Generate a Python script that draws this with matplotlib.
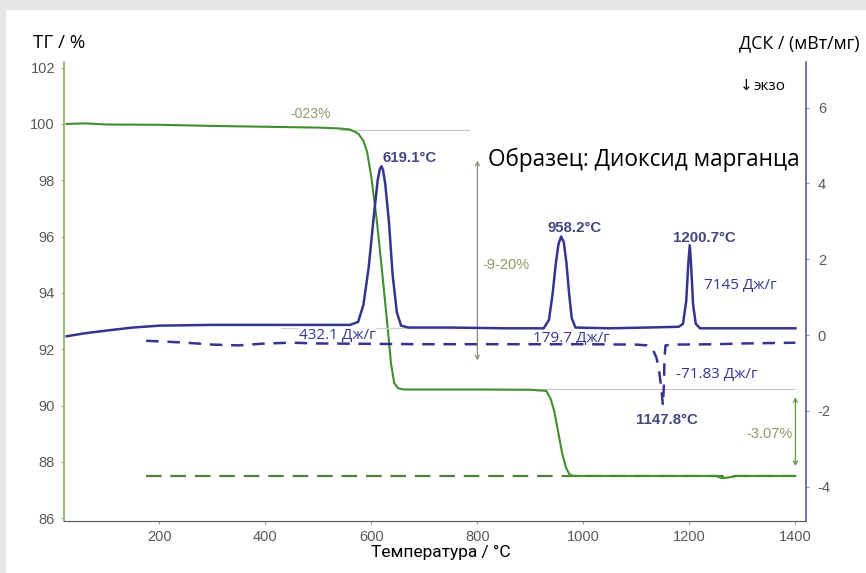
import matplotlib
matplotlib.use("Agg")
import matplotlib.pyplot as plt
from matplotlib.patches import Rectangle

plt.rcParams["axes.unicode_minus"] = False

# ---------------- data ----------------
tg_temp = [25, 60, 100, 200, 300, 400, 500, 540, 560, 575, 585, 592, 600, 610, 620,
           630, 637, 643, 650, 660, 700, 800, 900, 930, 938, 945, 952, 960, 967,
           974, 980, 1000, 1100, 1200, 1250, 1262, 1275, 1290, 1400]
tg_mass = [100.0, 100.02, 99.98, 99.97, 99.93, 99.9, 99.87, 99.84, 99.8, 99.66, 99.4,
           99.0, 98.1, 96.6, 94.8, 92.9, 91.5, 90.8, 90.62, 90.57, 90.57, 90.57, 90.56,
           90.52, 90.25, 89.8, 89.1, 88.3, 87.8, 87.55, 87.5, 87.5, 87.5, 87.5, 87.5,
           87.42, 87.45, 87.5, 87.5]

dsc_temp = [25, 60, 100, 150, 200, 300, 400, 500, 560, 575, 585, 595, 605, 612, 616,
            619, 622, 626, 633, 640, 648, 656, 670, 750, 850, 925, 935, 942, 948, 953,
            958, 963, 968, 973, 978, 985, 1050, 1120, 1180, 1188, 1194, 1198, 1200.7,
            1203, 1207, 1212, 1220, 1300, 1400]
dsc_heat = [-0.03, 0.05, 0.12, 0.2, 0.25, 0.27, 0.27, 0.27, 0.27, 0.35, 0.8, 1.8,
            3.2, 4.1, 4.38, 4.45, 4.35, 4.0, 3.0, 1.6, 0.6, 0.25, 0.2, 0.2, 0.18, 0.18,
            0.4, 1.1, 1.9, 2.4, 2.6, 2.45, 1.9, 1.1, 0.45, 0.2, 0.18, 0.2, 0.22, 0.3,
            0.9, 1.9, 2.37, 1.9, 0.8, 0.3, 0.18, 0.18, 0.18]

dsc2_temp = [175, 210, 250, 300, 350, 400, 450, 500, 600, 700, 800, 900, 1000, 1100,
             1120, 1130, 1138, 1143, 1147, 1150, 1152, 1153, 1155, 1170, 1250, 1300,
             1400]
dsc2_heat = [-0.15, -0.17, -0.2, -0.25, -0.27, -0.22, -0.2, -0.22, -0.23, -0.24,
             -0.24, -0.24, -0.24, -0.25, -0.27, -0.35, -0.6, -0.95, -1.4, -1.85,
             -1.3, -0.6, -0.27, -0.25, -0.24, -0.22, -0.2]

tg_ref_temp = [175, 1400]
tg_ref_mass = [87.5, 87.5]

x_ticks = [200, 400, 600, 800, 1000, 1200, 1400]
tg_ticks = [86, 88, 90, 92, 94, 96, 98, 100, 102]
dsc_ticks = [-4, -2, 0, 2, 4, 6]

tg_steps = ["-023%", "-9-20%", "-3.07%"]
peak_labels = ["619.1°C", "958.2°C", "1200.7°C", "1147.8°C"]
enthalpy_labels = ["432.1 Дж/г", "179.7 Дж/г", "7145 Дж/г", "-71.83 Дж/г"]

# ---------------- style ----------------
GREEN = "#3f8f2f"
NAVY = "#35358f"
OLIVE = "#8a9a62"
TICKC = "#595959"
SANS = ["Open Sans", "DejaVu Sans"]
TICKF = ["Liberation Sans", "DejaVu Sans"]

fig = plt.figure(figsize=(8.66, 5.73), dpi=100)
fig.patch.set_facecolor("#e6e6e6")
fig.add_artist(Rectangle((6 / 866, 0), 1, 1 - 10 / 573, transform=fig.transFigure,
                         facecolor="white", edgecolor="none", zorder=-10))

ax = fig.add_axes([64 / 866, 1 - 521 / 573, (806 - 64) / 866, (521 - 62) / 573])
ax2 = ax.twinx()

ax.set_xlim(20, 1420)
ax.set_ylim(85.9, 102.2)
ax2.set_ylim(-4.9, 7.2)

# TG curves
ax.plot(tg_temp, tg_mass, color=GREEN, lw=1.5, zorder=3)
ax.plot(tg_ref_temp, tg_ref_mass, color="#4f7f3a", lw=1.6, ls=(0, (7, 4)), zorder=2)

# reference gray lines
ax.plot([540, 785], [99.77, 99.77], color="#c8c8c8", lw=0.8, zorder=1)
ax.plot([800, 1400], [90.57, 90.57], color="#c8c8c8", lw=0.8, zorder=1)
ax2.plot([430, 800], [0.2, 0.2], color="#d0d0d0", lw=0.8, zorder=1)

# DSC curves
ax2.plot(dsc_temp, dsc_heat, color=NAVY, lw=1.8, zorder=4)
ax2.plot(dsc2_temp, dsc2_heat, color=NAVY, lw=1.8, ls=(0, (5, 3.5)), zorder=4)

# arrows
ax.annotate("", xy=(800, 91.5), xytext=(800, 98.8),
            arrowprops=dict(arrowstyle="<->", color="#8c8c80", lw=0.9, mutation_scale=7))
ax.annotate("", xy=(1400, 87.75), xytext=(1400, 90.4),
            arrowprops=dict(arrowstyle="<->", color="#5f9a45", lw=0.9, mutation_scale=7))

# axes styling
for a in (ax, ax2):
    a.spines["top"].set_visible(False)
ax.spines["left"].set_color("#7ab562")
ax.spines["bottom"].set_color("#555555")
ax.spines["right"].set_visible(False)
ax2.spines["left"].set_visible(False)
ax2.spines["bottom"].set_visible(False)
ax2.spines["right"].set_color("#5a5ab0")
ax2.spines["right"].set_linewidth(1.2)
ax.spines["left"].set_linewidth(1.2)

ax.set_xticks(x_ticks)
ax.set_yticks(tg_ticks)
ax2.set_yticks(dsc_ticks)
ax.tick_params(axis="both", length=2.5, width=0.8, colors="#999999", labelcolor=TICKC,
               labelsize=10.5, pad=4)
ax2.tick_params(axis="y", length=2.5, width=0.8, colors="#999999", labelcolor=TICKC,
                labelsize=10.5, pad=6)
for lab in ax.get_xticklabels() + ax.get_yticklabels() + ax2.get_yticklabels():
    lab.set_family(TICKF)

# axis titles
fig.text(33 / 866, 1 - 43 / 573, "ТГ / %", fontsize=13.5, family=SANS, va="center", ha="left")
fig.text(860 / 866, 1 - 43 / 573, "ДСК / (мВт/мг)", fontsize=12.8, family=SANS,
         va="center", ha="right")
fig.text(441 / 866, 1 - 552 / 573, "Температура / °C", fontsize=12.5,
         family=["Liberation Sans Narrow", "Roboto", "DejaVu Sans"], va="center", ha="center")
fig.text(740 / 866, 1 - 85 / 573, "↓", fontsize=11, family=["DejaVu Sans"],
         va="center", ha="left")
fig.text(753 / 866, 1 - 87 / 573, "экзо", fontsize=11, family=SANS, va="center", ha="left")
fig.text(488 / 866, 1 - 160 / 573, "Образец: Диоксид марганца", fontsize=16.3,
         family=SANS, va="center", ha="left")

# annotations on TG
ax.text(485, 100.37, tg_steps[0], color=OLIVE, fontsize=10, family=TICKF,
        ha="center", va="center")
ax.text(809, 94.98, tg_steps[1], color=OLIVE, fontsize=10.5, family=TICKF,
        ha="left", va="center")
ax.text(1394, 89.0, tg_steps[2], color=OLIVE, fontsize=10.5, family=TICKF,
        ha="right", va="center")

# annotations on DSC
pk_kw = dict(color="#45457f", fontsize=10.8, family=TICKF, fontweight="bold",
             ha="center", va="center")
ax2.text(672, 4.68, peak_labels[0], **pk_kw)
ax2.text(983, 2.82, peak_labels[1], **pk_kw)
ax2.text(1228, 2.55, peak_labels[2], **pk_kw)
ax2.text(1158, -2.24, peak_labels[3], **pk_kw)

en_kw = dict(color=NAVY, fontsize=11, family=SANS, ha="left", va="center", zorder=3)
box = dict(facecolor="white", edgecolor="none", pad=0.3)
ax2.text(464, 0.0, enthalpy_labels[0], bbox=box, **en_kw)
ax2.text(904, -0.08, enthalpy_labels[1], bbox=box, **en_kw)
ax2.text(1228, 1.3, enthalpy_labels[2], **en_kw)
ax2.text(1174, -1.03, enthalpy_labels[3], **en_kw)

fig.savefig("out.png", dpi=100, facecolor=fig.get_facecolor())
